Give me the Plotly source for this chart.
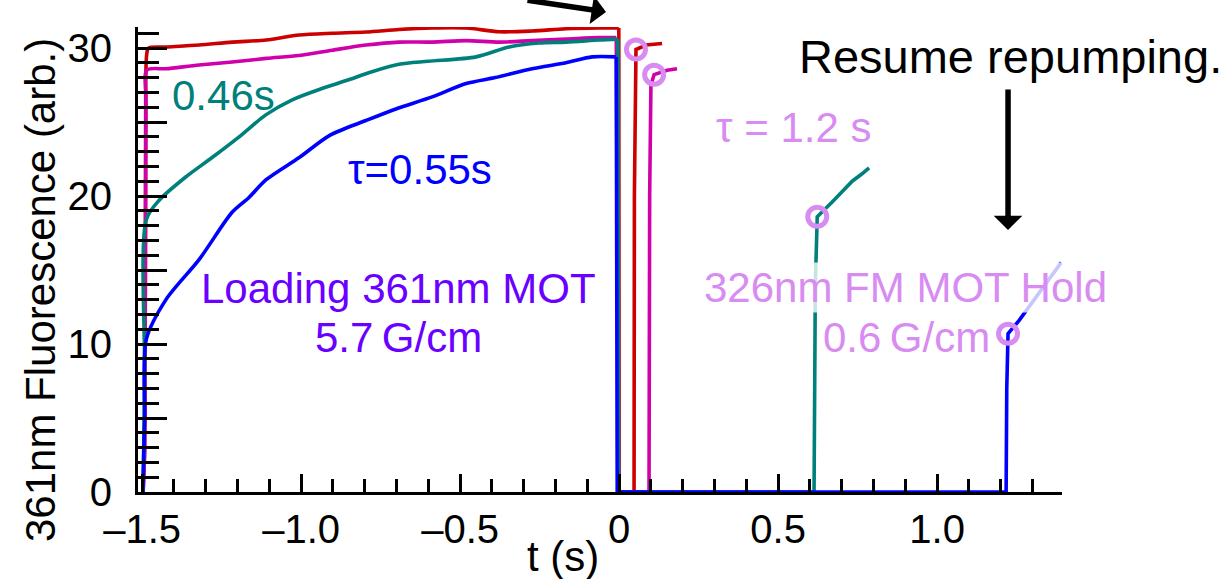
import plotly.graph_objects as go

# ---------------- data ----------------
# loading phase (t < 0)
red_load_t = [-1.497, -1.492, -1.489, -1.486, -1.480, -1.425, -1.321, -1.217, -1.110, -1.006, -0.903,
              -0.796, -0.692, -0.588, -0.481, -0.377, -0.274, -0.167, -0.063, -0.001]
red_load_v = [0.0, 3.0, 25.0, 29.5, 30.0, 30.07, 30.2, 30.4, 30.54, 30.88, 31.0,
              31.08, 31.25, 31.35, 31.35, 31.1, 31.15, 31.3, 31.35, 31.35]
# hold + recapture phase (t >= 0)
red_hold_t = [-0.001, 0.000, 0.003, 0.030, 0.047, 0.048, 0.050, 0.053, 0.085, 0.135]
red_hold_v = [31.35, 0.0, 0.0, 0.0, 0.0, 20.0, 28.5, 29.9, 30.2, 30.3]

mag_load_t = [-1.497, -1.492, -1.488, -1.485, -1.425, -1.321, -1.217, -1.110, -1.006, -0.903,
              -0.796, -0.692, -0.588, -0.481, -0.377, -0.274, -0.167, -0.063, -0.009]
mag_load_v = [0.0, 3.0, 26.5, 28.5, 28.6, 28.85, 29.05, 29.3, 29.5, 29.85,
              30.2, 30.4, 30.4, 30.5, 30.4, 30.5, 30.6, 30.7, 30.7]
mag_hold_t = [-0.009, -0.002, 0.010, 0.060, 0.094, 0.096, 0.100, 0.110, 0.151, 0.182]
mag_hold_v = [30.7, 0.0, 0.0, 0.0, 0.0, 20.0, 27.5, 28.2, 28.5, 28.6]

teal_load_t = [-1.497, -1.492, -1.487, -1.447, -1.362, -1.280, -1.195, -1.110, -1.028, -0.943,
               -0.858, -0.777, -0.692, -0.600, -0.450, -0.346, -0.252, -0.167, -0.063, -0.004]
teal_load_v = [0.0, 8.0, 18.4, 19.7, 21.3, 22.6, 24.0, 25.5, 26.5, 27.2,
               27.8, 28.4, 28.9, 29.1, 29.4, 30.07, 30.34, 30.4, 30.54, 30.6]
teal_hold_t = [-0.004, -0.002, 0.100, 0.300, 0.500, 0.613, 0.617, 0.620, 0.623, 0.670, 0.733, 0.764, 0.786]
teal_hold_v = [30.6, 0.0, 0.0, 0.0, 0.0, 0.0, 14.0, 17.5, 18.6, 19.6, 21.0, 21.5, 21.9]

blue_load_t = [-1.498, -1.492, -1.487, -1.425, -1.321, -1.217, -1.164, -1.110, -1.006, -0.910,
               -0.796, -0.700, -0.588, -0.481, -0.390, -0.274, -0.167, -0.085, -0.009]
blue_load_v = [0.0, 5.0, 10.3, 13.0, 15.7, 18.9, 19.9, 21.1, 22.6, 24.1,
               25.1, 25.9, 26.7, 27.6, 28.0, 28.6, 29.0, 29.4, 29.4]
blue_hold_t = [-0.009, -0.006, 0.100, 0.300, 0.500, 0.700, 0.900, 1.100, 1.217, 1.219, 1.221, 1.223,
               1.258, 1.311, 1.390]
blue_hold_v = [29.4, 0.0, 0.0, 0.0, 0.0, 0.0, 0.0, 0.0, 0.0, 7.0, 9.8, 10.7,
               11.6, 13.2, 15.5]

circle_t = [0.053, 0.110, 0.623, 1.223]
circle_v = [29.9, 28.2, 18.6, 10.7]

x_tickvals = [-1.5, -1.0, -0.5, 0.0, 0.5, 1.0]
x_ticktext = ["\u20131.5", "\u20131.0", "\u20130.5", "0", "0.5", "1.0"]
y_tickvals = [0, 5, 10, 15, 20, 25, 30]
y_ticktext = ["0", "", "10", "", "20", "", "30"]

# ---------------- styles ----------------
RED = "#cc0000"
MAG = "#d000aa"
TEAL = "#00807a"
BLUE = "#0000ff"
LAV = "#d88cf2"
VIOLET = "#6a00ff"
FONT = "Liberation Sans, Arial, sans-serif"
LW = 3.6

W, H = 1225, 579
L, R, T, B = 138, 163, 27, 87

fig = go.Figure()
series = [
    (red_load_t, red_load_v, red_hold_t, red_hold_v, RED),
    (mag_load_t, mag_load_v, mag_hold_t, mag_hold_v, MAG),
    (teal_load_t, teal_load_v, teal_hold_t, teal_hold_v, TEAL),
    (blue_load_t, blue_load_v, blue_hold_t, blue_hold_v, BLUE),
]
for lt, lv, ht, hv, c in series:
    fig.add_trace(go.Scatter(x=lt, y=lv, mode="lines",
                             line=dict(color=c, width=LW, shape="spline", smoothing=0.8),
                             showlegend=False, hoverinfo="skip"))
    fig.add_trace(go.Scatter(x=ht, y=hv, mode="lines", line=dict(color=c, width=LW),
                             showlegend=False, hoverinfo="skip"))
fig.add_trace(go.Scatter(x=circle_t, y=circle_v, mode="markers",
                         marker=dict(symbol="circle-open", size=19, color=LAV,
                                     line=dict(color=LAV, width=5)),
                         showlegend=False, hoverinfo="skip"))

axis_common = dict(showline=True, linewidth=3, linecolor="black", showgrid=False,
                   zeroline=False, ticks="inside", tickcolor="black", tickwidth=3,
                   tickfont=dict(family=FONT, size=40, color="black"))

fig.update_xaxes(range=[-1.513, 1.3927], tickmode="array", tickvals=x_tickvals, ticktext=x_ticktext,
                 ticklen=18,
                 minor=dict(tickmode="linear", tick0=0, dtick=0.1, ticks="inside", ticklen=13,
                            tickwidth=3, tickcolor="black", showgrid=False),
                 **axis_common)
fig.update_yaxes(range=[0, 31.42], tickmode="array", tickvals=y_tickvals, ticktext=y_ticktext,
                 ticklen=29, ticklabelstandoff=15,
                 minor=dict(tickmode="linear", tick0=0, dtick=1, ticks="inside", ticklen=21,
                            tickwidth=3, tickcolor="black", showgrid=False),
                 **axis_common)

PW = W - L - R
PH = H - T - B


def px(xp):
    return (xp - L) / PW


def py(yp):
    return (H - B - yp) / PH


def text(x, y, s, color, size=42, ref="data", bg=None, **kw):
    d = dict(x=x, y=y, text=s, showarrow=False, xanchor="center", yanchor="middle",
             font=dict(family=FONT, size=size, color=color))
    if ref == "paper":
        d.update(xref="paper", yref="paper")
    if bg:
        d["bgcolor"] = bg
    d.update(kw)
    fig.add_annotation(**d)


text(-1.245, 26.76, "0.46s", TEAL)
text(-0.626, 21.76, "\u03c4=0.55s", BLUE)
text(-0.695, 13.78, "Loading 361nm MOT", VIOLET)
text(-0.695, 10.41, "5.7\u2009G/cm", VIOLET)
text(0.550, 24.6, "\u03c4 = 1.2 s", LAV)
text(0.899, 13.85, "326nm FM MOT Hold", LAV, bg="rgba(255,255,255,0.78)")
text(0.903, 10.47, "0.6\u2009G/cm", LAV, bg="rgba(255,255,255,0.78)")
text(px(1010), py(56), "Resume repumping.", "black", size=47, ref="paper")

# axis titles
text(px(40), py(290), "361nm Fluorescence (arb.)", "black", size=42, ref="paper", textangle=-90)
text(px(563), py(557), "t (s)", "black", size=42, ref="paper")

# arrows
fig.add_annotation(x=1.223, y=17.7, ax=1.223, ay=27.3, axref="x", ayref="y",
                   showarrow=True, arrowhead=1, arrowwidth=5.5, arrowsize=0.87,
                   arrowcolor="black", text="")
fig.add_annotation(x=px(606), y=py(12), xref="paper", yref="paper", ax=-80, ay=-24,
                   showarrow=True, arrowhead=1, arrowwidth=5.5, arrowsize=0.87,
                   arrowcolor="black", text="")

fig.update_layout(width=W, height=H, margin=dict(l=L, r=R, t=T, b=B, autoexpand=False),
                  paper_bgcolor="white", plot_bgcolor="white", showlegend=False)

fig.write_html("out.html")
